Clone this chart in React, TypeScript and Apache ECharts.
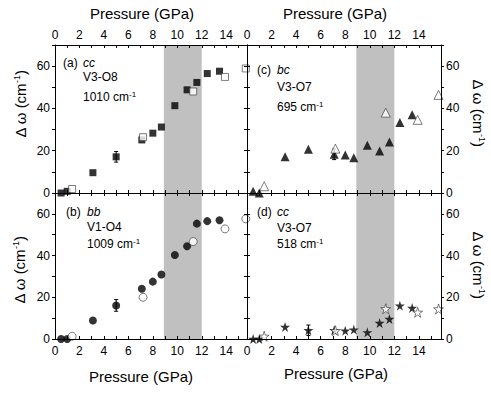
import React, { useEffect, useRef } from "react";
import * as echarts from "echarts";

// Pressures (GPa) of the measurement runs
const pressureFilled = [0.5, 1.0, 3.1, 5.0, 7.1, 8.0, 8.7, 9.8, 10.8, 11.6, 12.45, 13.45];
const pressureOpen = [1.4, 7.2, 11.3, 13.9, 15.6];

// (a) cc V3-O8 1010 cm-1
const aFilled = [0, 0.8, 9.6, 17.1, 25.1, 28.3, 31.2, 41.3, 48.8, 52.3, 56.5, 57.6];
const aOpen = [1.9, 26.4, 48.0, 54.9, 58.9];
const aErr = [[5.0, 17.1, 2.5]];
// (b) bb V1-O4 1009 cm-1
const bFilled = [0, 0, 8.9, 16.1, 24.1, 27.5, 30.9, 40.3, 44.5, 55.3, 56.5, 56.9];
const bOpen = [1.3, 20.0, 46.7, 52.8, 57.6];
const bErr = [[5.0, 16.1, 2.8]];
// (c) bc V3-O7 695 cm-1
const cFilled = [0.8, 0, 17.1, 20.7, 18.3, 18.0, 16.7, 22.6, 19.9, 24.1, 33.3, 37.0];
const cOpen = [3.2, 21.0, 38.0, 34.6, 46.4];
const cErr = [[7.1, 18.3, 2.5]];
// (d) cc V3-O7 518 cm-1
const dFilled = [0, 0, 5.8, 4.2, 4.2, 4.0, 4.5, 3.2, 7.7, 9.6, 16.0, 14.9];
const dOpen = [1.3, 4.0, 14.5, 12.8, 14.4];
const dErr = [[5.0, 4.2, 2.5]];

const transitionRange = [8.9, 12.0];
const xTickLabels = [0, 2, 4, 6, 8, 10, 12, 14];
const yTickLabels = [0, 20, 40, 60];

const FONT = "'Liberation Sans', Arial, Helvetica, sans-serif";
const STAR = "path://M50,0 L61,35 L98,35 L68,57 L79,91 L50,70 L21,91 L32,57 L2,35 L39,35 Z";

const panels = [
  { grid: { left: 55, top: 45, width: 192, height: 148 }, xmax: 15.7, xLab: "top", yLab: "left", filled: aFilled, open: aOpen, err: aErr, symbol: "rect", size: 7 },
  { grid: { left: 247, top: 45, width: 194, height: 148 }, xmax: 15.8, xLab: "top", yLab: "right", filled: cFilled, open: cOpen, err: cErr, symbol: "triangle", size: 9 },
  { grid: { left: 55, top: 193, width: 192, height: 146 }, xmax: 15.7, xLab: "bottom", yLab: "left", filled: bFilled, open: bOpen, err: bErr, symbol: "circle", size: 8 },
  { grid: { left: 247, top: 193, width: 194, height: 146 }, xmax: 15.8, xLab: "bottom", yLab: "right", filled: dFilled, open: dOpen, err: dErr, symbol: STAR, size: 10 },
];

const lineStyle = { color: "#000", width: 1 };

function xAxis(gi: number, xmax: number, position: string, show: boolean) {
  return {
    type: "value", gridIndex: gi, position, min: 0, max: xmax, interval: 1, z: 5,
    axisLine: { show: true, onZero: false, lineStyle },
    axisTick: { show: true, inside: true, length: 3, lineStyle },
    splitLine: { show: false },
    axisLabel: {
      show, margin: position === "top" ? 4 : 6, fontSize: 12, color: "#000", fontFamily: FONT,
      formatter: (v: number) => (xTickLabels.includes(Math.round(v * 1000) / 1000) ? String(v) : ""),
    },
  };
}

function yAxis(gi: number, position: string, show: boolean) {
  return {
    type: "value", gridIndex: gi, position, min: 0, max: 70, interval: 10, z: 5,
    axisLine: { show: true, onZero: false, lineStyle },
    axisTick: { show: true, inside: false, length: 3, lineStyle },
    splitLine: { show: false },
    axisLabel: {
      show, margin: 5, fontSize: 12, color: "#000", fontFamily: FONT,
      formatter: (v: number) => (yTickLabels.includes(v) ? String(v) : ""),
    },
  };
}

function errRender(params: any, api: any) {
  const x = api.value(0), y = api.value(1), e = api.value(2);
  const t = api.coord([x, y + e]);
  const b = api.coord([x, y - e]);
  const st = { stroke: "#000", lineWidth: 1 };
  return {
    type: "group",
    children: [
      { type: "line", shape: { x1: t[0], y1: t[1], x2: b[0], y2: b[1] }, style: st },
      { type: "line", shape: { x1: t[0] - 2, y1: t[1], x2: t[0] + 2, y2: t[1] }, style: st },
      { type: "line", shape: { x1: b[0] - 2, y1: b[1], x2: b[0] + 2, y2: b[1] }, style: st },
    ],
  };
}

const rich = {
  s: { fontSize: 8, fontFamily: FONT, fill: "#000", padding: [0, 0, 6, 0] },
};

function label(x: number, y: number, text: string, size = 12, italic = false) {
  return {
    type: "text", x, y, z: 10,
    style: {
      text, fill: "#000", fontSize: size, fontFamily: FONT, fontStyle: italic ? "italic" : "normal",
      align: "left", verticalAlign: "middle", rich,
    },
  };
}

function center(x: number, y: number, text: string, rotation = 0) {
  return {
    type: "text", x, y, rotation, z: 10,
    style: { text, fill: "#000", fontSize: 15, fontFamily: FONT, align: "center", verticalAlign: "middle", rich: { s: { fontSize: 9, fontFamily: FONT, fill: "#000", padding: [0, 0, 7, 0] } } },
  };
}

export default function App() {
  const ref = useRef<HTMLDivElement>(null);
  useEffect(() => {
    document.body.style.margin = "0";
    if (!ref.current) return;
    const chart = echarts.init(ref.current, null, { renderer: "svg" });
    const xAxes: any[] = [];
    const yAxes: any[] = [];
    const series: any[] = [];
    panels.forEach((p, i) => {
      const xi = xAxes.length;
      xAxes.push(xAxis(i, p.xmax, "bottom", p.xLab === "bottom"));
      xAxes.push(xAxis(i, p.xmax, "top", p.xLab === "top"));
      const yi = yAxes.length;
      yAxes.push(yAxis(i, "left", p.yLab === "left"));
      yAxes.push(yAxis(i, "right", p.yLab === "right"));
      series.push({
        type: "scatter", xAxisIndex: xi, yAxisIndex: yi, data: [], z: 1, silent: true,
        markArea: { silent: true, itemStyle: { color: "#c0c0c0" }, data: [[{ xAxis: transitionRange[0] }, { xAxis: transitionRange[1] }]] },
      });
      series.push({ type: "custom", xAxisIndex: xi, yAxisIndex: yi, data: p.err, renderItem: errRender, z: 3 });
      series.push({
        type: "scatter", xAxisIndex: xi, yAxisIndex: yi, z: 4, symbol: p.symbol, symbolSize: p.size,
        itemStyle: { color: "#000" }, clip: false,
        data: pressureFilled.map((x, k) => [x, p.filled[k]]),
      });
      series.push({
        type: "scatter", xAxisIndex: xi, yAxisIndex: yi, z: 4, symbol: p.symbol, symbolSize: p.size,
        itemStyle: { color: "#fff", borderColor: "#333", borderWidth: 0.8 }, clip: false,
        data: pressureOpen.map((x, k) => [x, p.open[k]]),
      });
    });
    const graphic = [
      center(142, 13, "Pressure (GPa)"),
      center(335, 13, "Pressure (GPa)"),
      center(141, 376, "Pressure (GPa)"),
      center(336, 373, "Pressure (GPa)"),
      center(20, 104, "Δ ω (cm{s|-1})", Math.PI / 2),
      center(19, 270, "Δ ω (cm{s|-1})", Math.PI / 2),
      center(478, 113, "Δ ω (cm{s|-1})", -Math.PI / 2),
      center(478, 265, "Δ ω (cm{s|-1})", -Math.PI / 2),
      label(63, 63, "(a)"), label(83, 63, "cc", 12, true), label(83, 77, "V3-O8"), label(83, 97, "1010 cm{s|-1}"),
      label(257, 70, "(c)"), label(277, 70, "bc", 12, true), label(277, 87, "V3-O7"), label(277, 107, "695 cm{s|-1}"),
      label(66, 212, "(b)"), label(87, 212, "bb", 12, true), label(87, 227, "V1-O4"), label(87, 244, "1009 cm{s|-1}"),
      label(257, 212, "(d)"), label(277, 212, "cc", 12, true), label(277, 228, "V3-O7"), label(277, 244, "518 cm{s|-1}"),
    ];
    chart.setOption({
      animation: false,
      backgroundColor: "#fff",
      textStyle: { fontFamily: FONT },
      grid: panels.map((p) => ({ ...p.grid, containLabel: false })),
      xAxis: xAxes,
      yAxis: yAxes,
      series,
      graphic,
    });
    return () => chart.dispose();
  }, []);
  return <div ref={ref} style={{ width: 491, height: 395 }} />;
}
